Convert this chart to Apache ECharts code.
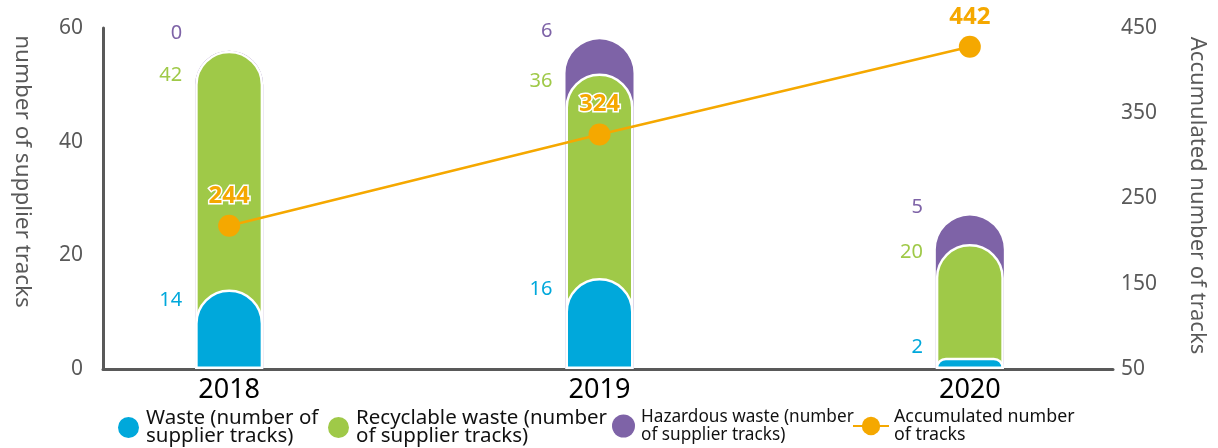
<!DOCTYPE html>
<html>
<head>
<meta charset="utf-8">
<script src="https://cdn.jsdelivr.net/npm/echarts@6/dist/echarts.min.js"></script>
<style>
  html, body { margin: 0; padding: 0; background: #fff; }
  #chart { width: 1218px; height: 448px; }
</style>
</head>
<body>
<div id="chart"></div>
<script>
// data
const years = ['2018', '2019', '2020']
const waste = [14, 16, 2]
const recyclable = [42, 36, 20]
const hazardous = [0, 6, 5]
// where the orange points sit on the right axis, and the numbers printed above them
const accumulated = [218, 325, 428]
const accumulatedLabels = ['244', '324', '442']
const leftTicks = [0, 20, 40, 60]
const rightTicks = [50, 150, 250, 350, 450]

const names = {
  waste: 'Waste (number of\nsupplier tracks)',
  recyclable: 'Recyclable waste (number\nof supplier tracks)',
  hazardous: 'Hazardous waste (number\nof supplier tracks)',
  accumulated: 'Accumulated number\nof tracks'
}

const FONT = '"Noto Sans", sans-serif'
const GRAY = '#595959'
const C_BLUE = '#00A8DB'
const C_GREEN = '#9FC948'
const C_PURPLE = '#7E63A7'
const C_ORANGE = '#F5A800'

// bars overlap (each drawn from 0 up to its running top) so the rounded tops sit inside the bar above
const topRecyclable = waste.map((v, i) => v + recyclable[i])
const topHazardous = topRecyclable.map((v, i) => v + hazardous[i])

const barLabel = (color, values) => ({
  show: true,
  align: 'right',
  verticalAlign: 'middle',
  color: color,
  fontSize: 20,
  fontFamily: FONT,
  formatter: p => values[p.dataIndex]
})

const barBase = {
  type: 'bar',
  xAxisIndex: 0,
  yAxisIndex: 0,
  barWidth: 68,
  barGap: '-100%',
  animation: false
}

// one legend per entry so each can sit where the original puts it
const legendItem = (name, left, fontSize, isLine) => ({
  data: [name],
  left: left,
  top: 403,
  icon: isLine ? undefined : 'circle',
  itemWidth: isLine ? 36 : 25,
  itemHeight: 23,
  textStyle: { fontSize: fontSize, lineHeight: 18, color: '#111', fontFamily: FONT }
})

const chart = echarts.init(document.getElementById('chart'))
chart.setOption({
  animation: false,
  textStyle: { fontFamily: FONT },
  grid: [
    // plotting grid (category bands)
    { left: 44, right: 63, top: 28, bottom: 79 },
    // grid that carries the visible axes
    { left: 103, right: 105, top: 28, bottom: 79 }
  ],
  legend: [
    legendItem(names.waste, 111, 20.5, false),
    legendItem(names.recyclable, 321, 20.5, false),
    legendItem(names.hazardous, 607, 17.2, false),
    legendItem(names.accumulated, 847, 17.8, true)
  ],
  xAxis: [
    {
      gridIndex: 0,
      type: 'category',
      data: years,
      axisLine: { show: false },
      axisTick: { show: false },
      axisLabel: { fontSize: 27, color: '#000', margin: 8, fontFamily: FONT }
    },
    {
      gridIndex: 1,
      type: 'category',
      data: years,
      axisLine: { lineStyle: { color: GRAY, width: 3 } },
      axisTick: { show: false },
      axisLabel: { show: false }
    }
  ],
  yAxis: [
    { gridIndex: 0, type: 'value', show: false, min: leftTicks[0], max: leftTicks[leftTicks.length - 1], splitLine: { show: false } },
    { gridIndex: 0, type: 'value', show: false, min: rightTicks[0], max: rightTicks[rightTicks.length - 1], splitLine: { show: false } },
    {
      gridIndex: 1,
      type: 'value',
      position: 'left',
      min: leftTicks[0],
      max: leftTicks[leftTicks.length - 1],
      interval: leftTicks[1] - leftTicks[0],
      axisLine: { show: true, lineStyle: { color: GRAY, width: 3 } },
      axisTick: { show: false },
      splitLine: { show: false },
      axisLabel: { fontSize: 21, color: GRAY, margin: 20, fontFamily: FONT },
      name: 'number of supplier tracks',
      nameLocation: 'middle',
      nameRotate: -90,
      nameGap: 69,
      nameTextStyle: { fontSize: 22.5, color: GRAY, fontFamily: FONT, padding: [0, 54, 0, 0] }
    },
    {
      gridIndex: 1,
      type: 'value',
      position: 'right',
      min: rightTicks[0],
      max: rightTicks[rightTicks.length - 1],
      interval: rightTicks[1] - rightTicks[0],
      axisLine: { show: false },
      axisTick: { show: false },
      splitLine: { show: false },
      axisLabel: { fontSize: 21, color: GRAY, margin: 8, fontFamily: FONT },
      name: 'Accumulated number of tracks',
      nameLocation: 'middle',
      nameRotate: -90,
      nameGap: 73,
      nameTextStyle: { fontSize: 22, color: GRAY, fontFamily: FONT, padding: [0, 6, 0, 0] }
    }
  ],
  series: [
    Object.assign({}, barBase, {
      name: names.hazardous,
      itemStyle: { color: C_PURPLE, borderRadius: [34, 34, 0, 0] },
      label: barLabel(C_PURPLE, hazardous),
      // an empty segment pushes its label (and the one below) apart
      data: topHazardous.map((v, i) => ({ value: v, label: { position: [-13, hazardous[i] === 0 ? -17 : -8] } }))
    }),
    Object.assign({}, barBase, {
      name: names.recyclable,
      itemStyle: { color: C_GREEN, borderRadius: [34, 34, 0, 0], borderColor: '#fff', borderWidth: 2.5 },
      label: barLabel(C_GREEN, recyclable),
      data: topRecyclable.map((v, i) => ({ value: v, label: { position: [-13, hazardous[i] === 0 ? 25 : 8] } }))
    }),
    Object.assign({}, barBase, {
      name: names.waste,
      itemStyle: { color: C_BLUE, borderRadius: [34, 34, 0, 0], borderColor: '#fff', borderWidth: 2.5 },
      label: barLabel(C_BLUE, waste),
      data: waste.map(v => ({ value: v, label: { position: [-13, v < 5 ? -10 : 11] } }))
    }),
    {
      name: names.accumulated,
      type: 'line',
      xAxisIndex: 0,
      yAxisIndex: 1,
      data: accumulated,
      symbol: 'circle',
      symbolSize: 22,
      z: 5,
      animation: false,
      lineStyle: { color: C_ORANGE, width: 2.5 },
      itemStyle: { color: C_ORANGE },
      label: {
        show: true,
        position: 'top',
        distance: 7,
        color: C_ORANGE,
        fontSize: 24,
        fontWeight: 'bold',
        fontFamily: FONT,
        textBorderColor: '#fff',
        textBorderWidth: 3,
        formatter: p => accumulatedLabels[p.dataIndex]
      }
    }
  ]
})
</script>
</body>
</html>
